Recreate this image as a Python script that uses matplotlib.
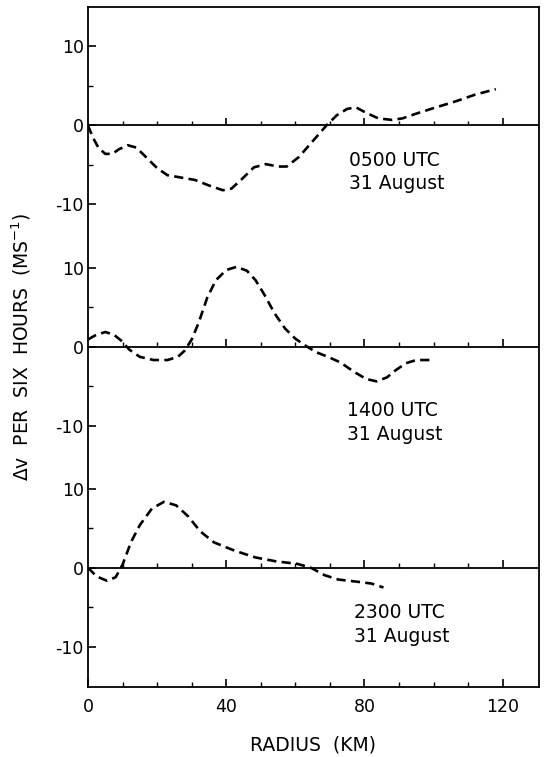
import matplotlib.pyplot as plt
import numpy as np

# Radial profiles of the six-hourly change in tangential wind (m/s)
radius_0500 = [0.0, 1.5, 3, 5, 7, 9, 11.5, 14, 17, 20, 23, 27, 31, 35, 39, 41.5,
               44.5, 48, 51.5, 55, 57.5, 61, 65, 69, 72, 75, 77.5, 80.5, 84, 88,
               91, 95, 100, 106, 112, 118]
dv_0500 = [0.0, -1.6, -2.8, -3.6, -3.6, -3.0, -2.5, -2.8, -4.1, -5.4, -6.3, -6.6,
           -6.9, -7.6, -8.2, -8.0, -6.8, -5.3, -4.9, -5.2, -5.2, -4.0, -2.0, 0.0,
           1.3, 2.1, 2.3, 1.6, 0.9, 0.7, 0.9, 1.5, 2.2, 3.0, 3.9, 4.6]

radius_1400 = [0, 2, 5, 7.5, 9.5, 12, 15, 19, 23, 26, 28, 30, 32, 34.5, 37, 40,
               43, 46, 48.5, 51, 54, 57, 60, 63, 66, 70, 73, 77, 80.5, 83.5,
               86.5, 89, 92, 95, 99]
dv_1400 = [0.9, 1.4, 1.85, 1.5, 0.8, -0.4, -1.3, -1.7, -1.7, -1.3, -0.5, 0.9,
           3.0, 6.2, 8.4, 9.7, 10.1, 9.6, 8.4, 6.6, 4.2, 2.3, 1.0, 0.1, -0.7,
           -1.4, -2.0, -3.2, -4.1, -4.4, -3.9, -3.0, -2.1, -1.7, -1.7]

radius_2300 = [0, 2.5, 5.5, 8, 10, 12.5, 15, 18.5, 22, 25.5, 29, 32.5, 36.5,
               42.5, 48.5, 54.5, 60.5, 64.5, 68.5, 72.5, 78.5, 82, 85.5]
dv_2300 = [0, -1.1, -1.65, -1.2, 0.4, 3.3, 5.4, 7.5, 8.35, 7.9, 6.5, 4.6, 3.2,
           2.15, 1.3, 0.8, 0.5, 0.0, -0.95, -1.5, -1.8, -2.0, -2.5]

panel_labels = ["0500 UTC\n31 August", "1400 UTC\n31 August", "2300 UTC\n31 August"]

x_major = [0, 40, 80, 120]
x_minor = [10, 20, 30, 50, 60, 70, 90, 100, 110]
y_major = [-10, 0, 10]
y_minor = [-5, 5]

# vertical stacking of the three panels on one shared frame
offsets = [56, 28, 0]
profiles = [(radius_0500, dv_0500), (radius_1400, dv_1400), (radius_2300, dv_2300)]
label_pos = [(75.5, -5.9), (75.0, -9.6), (77.0, -7.2)]

plt.rcParams['font.family'] = ['DejaVu Sans']

fig = plt.figure(figsize=(5.46, 7.57), dpi=100)
ax = fig.add_axes([88 / 546, 1 - 687 / 757, (539 - 88) / 546, 680 / 757])
ax.set_xlim(0, 130.5)
ax.set_ylim(-15.1, 71)

for sp in ax.spines.values():
    sp.set_linewidth(1.3)
    sp.set_color('black')

# y ticks: each panel gets its own -10 / 0 / 10 scale
yt, ylab = [], []
for off in offsets:
    for v in y_major:
        yt.append(off + v)
        ylab.append(str(v))
ax.set_yticks(yt)
ax.set_yticklabels(ylab, fontsize=12.5)
ax.set_yticks([off + v for off in offsets for v in y_minor], minor=True)

ax.set_xticks(x_major)
ax.set_xticklabels([str(v) for v in x_major], fontsize=12.5)
ax.set_xticks(x_minor, minor=True)

ax.tick_params(which='major', direction='in', length=6, width=1.2, pad=3)
ax.tick_params(axis='x', which='major', pad=8)
ax.tick_params(which='minor', direction='in', length=3.5, width=1.0)

for off, (r, dv), txt, (tx, ty) in zip(offsets, profiles, panel_labels, label_pos):
    # zero line with small upward radius ticks
    ax.axhline(off, color='black', lw=1.3, zorder=2)
    ax.vlines(x_minor, off, off + 0.6, color='black', lw=1.0)
    ax.vlines(x_major[1:], off, off + 1.0, color='black', lw=1.2)
    ax.plot(r, np.asarray(dv) + off, color='black', lw=1.9,
            linestyle=(0, (3.5, 2.0)), dash_capstyle='butt', zorder=3)
    ax.text(tx, off + ty, txt, fontsize=13.5, va='center', ha='left',
            linespacing=1.3)

ax.set_xlabel("RADIUS  (KM)", fontsize=13.5, labelpad=14)
ax.set_ylabel(r"$\Delta$v  PER  SIX  HOURS  (MS$^{-1}$)", fontsize=13.5,
              labelpad=16)

fig.savefig("out.png", dpi=100)
